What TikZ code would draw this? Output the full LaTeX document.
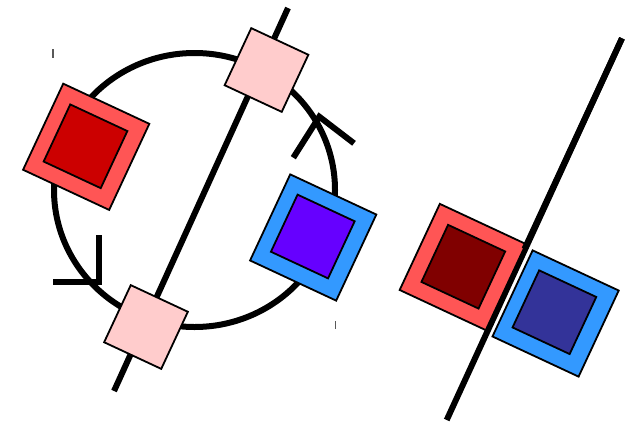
\documentclass[tikz,border=0pt]{standalone}
\begin{document}
\begin{tikzpicture}[x=1pt,y=-1pt,
  bigline/.style={line width=6pt},
  tilted/.style={draw=black, line width=1.8pt, rotate=-25, minimum size=#1, inner sep=0pt, outer sep=0pt},
  tick/.style={draw=gray!70!black, line width=1.2pt}]
\definecolor{pinkbox}{HTML}{FFCCCC}
\definecolor{redbox}{HTML}{FF5555}
\definecolor{darkredbox}{HTML}{CC0000}
\definecolor{bluebox}{HTML}{3399FF}
\definecolor{purplebox}{HTML}{6600FF}
\definecolor{maroonbox}{HTML}{800000}
\definecolor{navybox}{HTML}{333399}
\useasboundingbox (0,0) rectangle (634,426);
\fill[white] (0,0) rectangle (634,426);

% tick marks
\draw[tick] (53,49) -- (53,58);
\draw[tick] (335.5,321) -- (335.5,329);

% circle
\draw[bigline] (194.5,190) ellipse [x radius=140.5, y radius=137];

% rotation arrows
\coordinate (a1) at (293.3,157.7);
\coordinate (a2) at (319.3,116.7);
\coordinate (a3) at (354,143.3);
\draw[bigline] (a1) -- (a2) -- (a3);
\coordinate (b1) at (99,235);
\coordinate (b2) at (99,281.7);
\coordinate (b3) at (53.3,281.7);
\draw[bigline] (b1) -- (b2) -- (b3);

% axis through circle
\coordinate (l1) at (288,8);
\coordinate (l2) at (114,391);
\draw[bigline] (l1) -- (l2);

% pink squares on the axis
\node[tilted=63pt, fill=pinkbox] (ptop) at (266.5,70) {};
\node[tilted=63pt, fill=pinkbox] (pbot) at (146,327) {};

% left red square
\node[tilted=95pt, fill=redbox] (rL) at (86.2,146.8) {};
\node[tilted=63pt, fill=darkredbox] (rLi) at (85.5,146.3) {};

% middle blue square
\node[tilted=95pt, fill=bluebox] (bM) at (313.2,237.5) {};
\node[tilted=63pt, fill=purplebox] (bMi) at (312.8,236.5) {};

% right pair with line
\coordinate (m1) at (622,38.3);
\coordinate (m2) at (446.7,420);
\draw[bigline] (m1) -- (m2);
\node[tilted=95pt, fill=redbox] (rR) at (462.8,267) {};
\node[tilted=63pt, fill=maroonbox] (rRi) at (463.3,266.7) {};
\node[tilted=95pt, fill=bluebox] (bR) at (555.6,313.5) {};
\node[tilted=63pt, fill=navybox] (bRi) at (554.4,312.2) {};
\coordinate (m3) at (524.5,249);
\draw[bigline] (m1) -- (m3);
\end{tikzpicture}
\end{document}
